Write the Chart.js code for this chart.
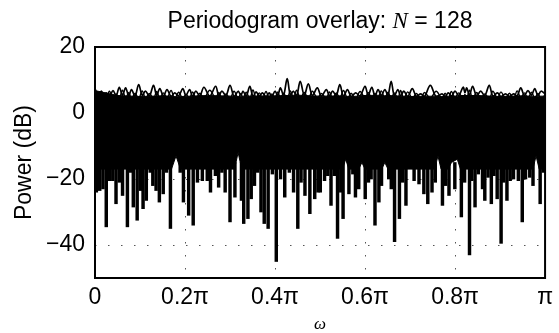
<!DOCTYPE html>
<html>
<head>
<meta charset="utf-8">
<script src="https://cdn.jsdelivr.net/npm/chart.js@4/dist/chart.umd.min.js"></script>
<style>
  html, body { margin: 0; padding: 0; background: #fff; }
</style>
</head>
<body>
<canvas id="c" width="559" height="333"></canvas>
<script>
// title pieces (N is set in italic)
var titleParts = ['Periodogram overlay: ', 'N', ' = 128'];

// axis ticks, frequency in units of pi
var xTickValues = [0, 0.2, 0.4, 0.6, 0.8, 1];
var xTickLabels = ['0', '0.2π', '0.4π', '0.6π', '0.8π', 'π'];
var yTickValues = [-40, -20, 0, 20];

// top edge of the overlaid periodograms (peaks and the dips between them), dB
var upperOmega = [0,0.006,0.014,0.02,0.025,0.032,0.04,0.047,0.054,0.061,
  0.068,0.075,0.081,0.089,0.097,0.105,0.112,0.121,0.13,0.137,
  0.144,0.152,0.16,0.169,0.177,0.186,0.195,0.202,0.21,0.217,
  0.224,0.233,0.242,0.255,0.268,0.275,0.282,0.291,0.3,0.309,
  0.318,0.324,0.329,0.336,0.344,0.351,0.358,0.365,0.372,0.38,
  0.387,0.393,0.4,0.406,0.412,0.419,0.427,0.434,0.441,0.448,
  0.456,0.465,0.474,0.483,0.494,0.503,0.514,0.521,0.528,0.536,
  0.544,0.552,0.561,0.569,0.579,0.589,0.6,0.607,0.615,0.622,
  0.629,0.636,0.644,0.651,0.658,0.665,0.673,0.679,0.686,0.695,
  0.705,0.714,0.724,0.732,0.745,0.758,0.771,0.778,0.785,0.792,
  0.8,0.808,0.818,0.822,0.826,0.832,0.839,0.848,0.857,0.866,
  0.876,0.884,0.894,0.902,0.912,0.921,0.93,0.938,0.946,0.954,
  0.962,0.97,0.977,0.984,0.991,1];
var upperDb = [7.6,5.0,6.6,5.2,6.1,5.0,6.8,5.3,7.8,5.4,
  7.6,5.2,7.1,5.1,8.6,5.3,6.6,5.2,8.4,5.4,
  7.4,5.1,7.1,5.0,6.1,5.2,7.4,5.3,7.1,5.0,
  6.6,5.2,7.8,5.1,8.1,5.2,6.6,5.3,8.4,5.0,
  6.6,5.4,6.6,5.1,8.1,5.0,6.4,5.1,6.1,4.9,
  6.1,5.0,6.6,5.3,7.6,5.4,10.4,5.5,6.6,5.2,
  9.6,5.4,8.8,5.3,7.6,5.1,7.1,5.2,6.6,5.3,
  8.6,5.1,7.1,5.0,6.1,5.2,8.1,5.4,7.8,5.2,
  7.1,5.3,7.1,5.4,9.6,5.3,7.1,5.2,6.6,5.0,
  7.4,5.1,5.8,5.0,8.4,5.0,5.8,5.0,6.1,5.1,
  6.6,5.3,7.8,6.2,7.6,5.4,8.1,5.2,6.6,5.3,
  8.4,5.1,6.1,5.0,5.8,5.0,5.8,5.2,7.6,5.3,
  6.8,5.4,7.4,5.3,6.6,5.8];
// a second, lower curve whose lobes sit between the top ones (same omega grid)
var upper2Db = [5.2,6.4,4.4,5.9,4.5,6.6,4.3,5.8,4.4,6.9,
  4.5,6.2,4.3,6.0,4.4,6.7,4.5,5.9,4.3,6.5,
  4.4,6.1,4.5,6.8,4.4,6.3,4.3,5.7,4.5,6.4,
  4.4,6.0,4.3,6.9,4.5,6.2,4.4,5.8,4.3,6.6,
  4.5,5.9,4.4,6.3,4.3,7.0,4.5,6.1,4.4,6.5,
  4.3,5.8,4.5,6.4,4.4,6.0,4.3,6.7,4.5,6.9,
  4.4,6.2,4.3,6.6,4.5,5.9,4.4,6.4,4.3,6.1,
  4.5,6.8,4.4,6.0,4.3,6.5,4.5,6.2,4.4,5.9,
  4.3,6.7,4.5,6.3,4.4,6.1,4.3,6.8,4.5,6.4,
  4.4,5.9,4.3,6.2,4.5,6.6,4.4,6.0,4.3,6.5,
  4.5,6.1,4.4,5.6,4.3,6.9,4.5,6.2,4.4,5.8,
  4.3,6.6,4.5,6.4,4.4,6.0,4.3,6.7,4.5,6.1,
  4.4,6.3,4.5,5.9,4.3,5.5];

// solid band where all the curves overlap
var coreOmega = [0,0.05,0.1,0.15,0.17,0.18,0.19,0.25,0.31,0.318,
  0.326,0.4,0.45,0.5,0.55,0.557,0.564,0.586,0.593,0.6,
  0.637,0.644,0.651,0.7,0.755,0.762,0.769,0.785,0.792,0.805,
  0.812,0.85,0.9,0.95,0.973,0.98,0.987,1];
var coreTop = [6.8,5.3,5.0,5.2,5.1,4.9,5.0,5.3,5.1,5.0,
  5.1,5.2,5.4,5.1,5.2,5.1,5.0,5.1,5.3,5.3,
  5.4,5.2,5.3,5.0,5.1,5.2,5.0,5.1,5.2,5.1,
  5.3,5.3,5.0,5.2,5.1,5.0,5.1,5.1];
var coreBottom = [-17,-17,-17,-17,-17,-13,-17,-17,-17,-12,
  -17,-17,-17,-17,-17,-14,-17,-17,-15,-17,
  -17,-15,-17,-17,-17,-13,-17,-17,-15,-14,
  -17,-17,-17,-17,-17,-13,-17,-17];

// downward spikes (nulls of single periodograms), dB
var spikeTop = -15;
var spikeOmega = [0.003,0.0105,0.0177,0.025,0.0322,0.0395,0.0467,0.0539,0.0612,0.072,
  0.0793,0.0851,0.0937,0.101,0.1068,0.114,0.1227,0.1285,0.1357,0.143,
  0.1516,0.1589,0.1676,0.1893,0.1965,0.2081,0.2182,0.2276,0.2385,0.2494,
  0.2566,0.2675,0.2747,0.2819,0.2892,0.3,0.3109,0.3254,0.3304,0.3398,
  0.3471,0.3543,0.3616,0.3688,0.376,0.3847,0.3941,0.4028,0.4122,0.4216,
  0.4318,0.4412,0.4506,0.4578,0.4665,0.4774,0.4882,0.4955,0.5005,0.51,
  0.5172,0.5244,0.5317,0.5389,0.5461,0.5512,0.5642,0.5729,0.5787,0.586,
  0.6004,0.6077,0.6135,0.6221,0.6308,0.6366,0.6526,0.6583,0.6656,0.6764,
  0.6837,0.6909,0.709,0.7199,0.7307,0.7394,0.7488,0.7561,0.772,0.7792,
  0.7865,0.7995,0.814,0.8212,0.8321,0.8371,0.8444,0.8516,0.861,0.8661,
  0.8733,0.8806,0.8864,0.8936,0.9023,0.9081,0.9153,0.9225,0.9298,0.9406,
  0.9493,0.9566,0.966,0.9732,0.9891,0.9964];
var spikeBottom = [-24,-23.5,-23,-34.5,-20.5,-20.5,-27.5,-21,-25,-34.5,
  -18,-28.5,-32.5,-23.5,-29,-26.5,-18,-22,-23.5,-27,
  -24.5,-18,-35,-18,-27,-31,-34,-21,-20.5,-20.5,
  -24,-19,-22.5,-18,-24,-33,-25.5,-26.5,-33.5,-32,
  -26,-22,-18,-30,-33.5,-35,-18.5,-45,-20,-25.5,
  -18,-24,-35,-21,-25,-30.5,-26,-24,-24,-20.5,
  -19,-28,-19,-38,-24,-32,-24.5,-18.5,-25.5,-23,
  -26,-21,-20,-34,-27,-22,-20,-23,-39,-32,
  -21,-28,-20.5,-21.5,-24.5,-27.5,-24,-21,-28,-22,
  -25,-23,-31.5,-21,-43,-20.5,-28.5,-18.5,-23,-26.5,
  -19.5,-27.5,-19,-26,-39.5,-21,-26.5,-20.5,-20,-20.5,
  -33,-20,-19.5,-22,-27.5,-18];

function pts(xs, ys) {
  return xs.map(function(x, i){ return {x: x, y: ys[i]}; });
}

var sansFont = "'Liberation Sans', Arial, Helvetica, sans-serif";
var serifFont = "'Liberation Serif', 'Times New Roman', serif";
Chart.defaults.font.family = sansFont;
Chart.defaults.font.size = 23;
Chart.defaults.color = '#000';

// title with italic N, drawn above the plot box
var titlePlugin = {
  id: 'mixedTitle',
  afterDraw: function(chart) {
    var ctx = chart.ctx, a = chart.chartArea;
    var fonts = ['23px ' + sansFont, 'italic 23px ' + serifFont, '23px ' + sansFont];
    var widths = titleParts.map(function(t, i){ ctx.font = fonts[i]; return ctx.measureText(t).width; });
    var total = widths.reduce(function(s, w){ return s + w; }, 0);
    var x = (a.left + a.right) / 2 - total / 2;
    ctx.save();
    ctx.fillStyle = '#000';
    ctx.textBaseline = 'alphabetic';
    titleParts.forEach(function(t, i){
      ctx.font = fonts[i];
      ctx.fillText(t, x, 28);
      x += widths[i];
    });
    ctx.restore();
  }
};

// MATLAB-like box around the axes
var boxPlugin = {
  id: 'box',
  afterDatasetsDraw: function(chart) {
    var ctx = chart.ctx, a = chart.chartArea;
    ctx.save();
    ctx.strokeStyle = '#000';
    ctx.lineWidth = 2;
    ctx.strokeRect(a.left, a.top, a.right - a.left, a.bottom - a.top);
    ctx.restore();
  }
};

var options = {
  type: 'line',
  data: {
    datasets: [
      {
        label: 'core top',
        data: pts(coreOmega, coreTop),
        borderColor: '#000', backgroundColor: '#000', borderWidth: 1,
        pointRadius: 0, tension: 0, fill: '+1'
      },
      {
        label: 'core bottom',
        data: pts(coreOmega, coreBottom),
        borderColor: '#000', borderWidth: 1,
        pointRadius: 0, tension: 0, fill: false
      },
      {
        type: 'bar',
        label: 'spikes',
        data: spikeOmega.map(function(w, i){ return {x: w, y: [spikeTop, spikeBottom[i]]}; }),
        backgroundColor: '#000', borderWidth: 0,
        barThickness: 2.8, grouped: false
      },
      {
        label: 'upper',
        data: pts(upperOmega, upperDb),
        borderColor: '#000', borderWidth: 1.7,
        pointRadius: 0, tension: 0.35, fill: false
      },
      {
        label: 'upper 2',
        data: pts(upperOmega, upper2Db),
        borderColor: '#000', borderWidth: 1.4,
        pointRadius: 0, tension: 0.35, fill: false
      }
    ]
  },
  options: {
    responsive: false,
    animation: false,
    events: [],
    layout: { padding: { top: 47, right: 3, left: 0, bottom: 0 } },
    plugins: { legend: { display: false }, tooltip: { enabled: false }, title: { display: false } },
    scales: {
      x: {
        type: 'linear', min: 0, max: 1, offset: false,
        afterBuildTicks: function(axis){ axis.ticks = xTickValues.map(function(v){ return {value: v}; }); },
        afterFit: function(axis){ axis.height = 55; },
        ticks: {
          autoSkip: false, maxRotation: 0, padding: 6,
          callback: function(v){ var i = xTickValues.indexOf(v); return i >= 0 ? xTickLabels[i] : ''; }
        },
        grid: { color: '#555', lineWidth: 1, drawTicks: false, offset: false },
        border: { display: false, dash: [1.5, 11.5] },
        title: {
          display: true, text: 'ω',
          font: { family: serifFont, style: 'italic', size: 17, lineHeight: 1 },
          padding: { top: 0, bottom: 0 }
        }
      },
      y: {
        type: 'linear', min: -50, max: 20,
        afterBuildTicks: function(axis){ axis.ticks = yTickValues.map(function(v){ return {value: v}; }); },
        afterFit: function(axis){ axis.width = 95; },
        ticks: {
          padding: 10,
          callback: function(v){ return v < 0 ? '\u2212' + Math.abs(v) : String(v); }
        },
        grid: { color: '#555', lineWidth: 1, drawTicks: false },
        border: { display: false, dash: [1.5, 11.5] },
        title: {
          display: true, text: 'Power (dB)',
          font: { size: 23 },
          padding: { top: 11, bottom: 0 }
        }
      }
    }
  },
  plugins: [titlePlugin, boxPlugin]
};

var ctx = document.getElementById('c').getContext('2d');
window.periodogramChart = new Chart(ctx, options);
</script>
</body>
</html>
